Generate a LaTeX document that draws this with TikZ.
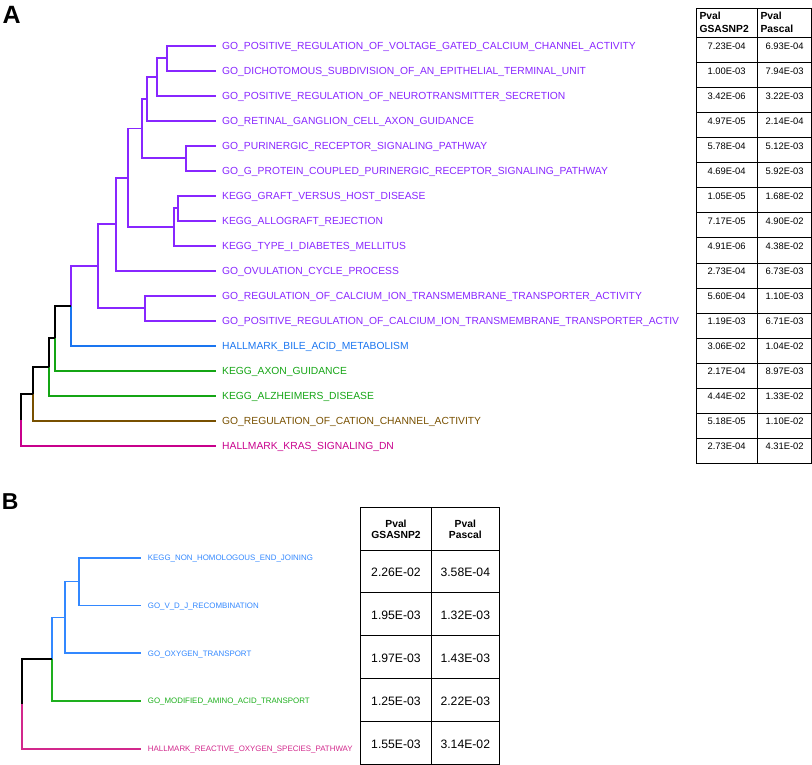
\documentclass[tikz,border=0pt]{standalone}
\usepackage{fontspec}
\setmainfont{Liberation Sans}
\definecolor{cpurple}{RGB}{136,38,255}
\definecolor{cblueA}{RGB}{26,117,240}
\definecolor{cgreenA}{RGB}{20,165,20}
\definecolor{cbrown}{RGB}{120,80,0}
\definecolor{cmagA}{RGB}{200,0,140}
\definecolor{cblueB}{RGB}{51,136,255}
\definecolor{cgreenB}{RGB}{30,175,30}
\definecolor{cmagB}{RGB}{210,40,140}
\begin{document}
\begin{tikzpicture}[x=1pt,y=-1pt,
  br/.style={line width=1.9pt},
  brB/.style={line width=1.7pt},
  lblA/.style={anchor=base west, inner sep=0pt, font=\fontsize{10.3}{12}\selectfont},
  lblB/.style={anchor=base west, inner sep=0pt, font=\fontsize{7.9}{9}\selectfont},
  valA/.style={anchor=base, inner sep=0pt, font=\fontsize{9.4}{11}\selectfont},
  valB/.style={anchor=base, inner sep=0pt, font=\fontsize{12.2}{14}\selectfont},
  hdr/.style={inner sep=0pt, font=\bfseries\fontsize{10.3}{12}\selectfont},
  gridline/.style={line width=1pt, black},
  panel/.style={anchor=base west, inner sep=0pt, font=\bfseries}
]
\useasboundingbox (0,0) rectangle (812,765);

% ---------------- Panel A ----------------
\node[panel, font=\bfseries\fontsize{25}{28}\selectfont] (pA) at (2.5,24) {A};

\foreach \c/\t [count=\i from 0] in {
 cpurple/GO\_POSITIVE\_REGULATION\_OF\_VOLTAGE\_GATED\_CALCIUM\_CHANNEL\_ACTIVITY,
 cpurple/GO\_DICHOTOMOUS\_SUBDIVISION\_OF\_AN\_EPITHELIAL\_TERMINAL\_UNIT,
 cpurple/GO\_POSITIVE\_REGULATION\_OF\_NEUROTRANSMITTER\_SECRETION,
 cpurple/GO\_RETINAL\_GANGLION\_CELL\_AXON\_GUIDANCE,
 cpurple/GO\_PURINERGIC\_RECEPTOR\_SIGNALING\_PATHWAY,
 cpurple/GO\_G\_PROTEIN\_COUPLED\_PURINERGIC\_RECEPTOR\_SIGNALING\_PATHWAY,
 cpurple/KEGG\_GRAFT\_VERSUS\_HOST\_DISEASE,
 cpurple/KEGG\_ALLOGRAFT\_REJECTION,
 cpurple/KEGG\_TYPE\_I\_DIABETES\_MELLITUS,
 cpurple/GO\_OVULATION\_CYCLE\_PROCESS,
 cpurple/GO\_REGULATION\_OF\_CALCIUM\_ION\_TRANSMEMBRANE\_TRANSPORTER\_ACTIVITY,
 cpurple/GO\_POSITIVE\_REGULATION\_OF\_CALCIUM\_ION\_TRANSMEMBRANE\_TRANSPORTER\_ACTIV,
 cblueA/HALLMARK\_BILE\_ACID\_METABOLISM,
 cgreenA/KEGG\_AXON\_GUIDANCE,
 cgreenA/KEGG\_ALZHEIMERS\_DISEASE,
 cbrown/GO\_REGULATION\_OF\_CATION\_CHANNEL\_ACTIVITY,
 cmagA/HALLMARK\_KRAS\_SIGNALING\_DN}
{
  \coordinate (a\i) at (216,45.7+25*\i);
  \node[lblA, text=\c, xshift=6pt, yshift=-3.7pt] (la\i) at (a\i) {\t};
}

\coordinate (p1) at (167.3,58.2);
\coordinate (p2) at (156.7,76.95);
\coordinate (p3) at (147.3,98.8);
\coordinate (p4) at (186,158.2);
\coordinate (p5) at (142.3,128.5);
\coordinate (p6) at (178.3,208.2);
\coordinate (p7) at (173.7,226.95);
\coordinate (p8) at (127.7,177.7);
\coordinate (p9) at (116.3,224.2);
\coordinate (p10) at (145,308.2);
\coordinate (p11) at (97.7,266.2);
\coordinate (p12) at (71,305.95);
\coordinate (p13) at (55.3,338.3);
\coordinate (p14) at (49.3,367);
\coordinate (p15) at (33,393.85);
\coordinate (p16) at (21.3,419.8);

\begin{scope}[br, cpurple]
  \draw (p1) |- (a0);  \draw (p1) |- (a1);
  \draw (p2) |- (p1);  \draw (p2) |- (a2);
  \draw (p3) |- (p2);  \draw (p3) |- (a3);
  \draw (p4) |- (a4);  \draw (p4) |- (a5);
  \draw (p5) |- (p3);  \draw (p5) |- (p4);
  \draw (p6) |- (a6);  \draw (p6) |- (a7);
  \draw (p7) |- (p6);  \draw (p7) |- (a8);
  \draw (p8) |- (p5);  \draw (p8) |- (p7);
  \draw (p9) |- (p8);  \draw (p9) |- (a9);
  \draw (p10) |- (a10); \draw (p10) |- (a11);
  \draw (p11) |- (p9);  \draw (p11) |- (p10);
  \draw (p12) |- (p11);
\end{scope}
\draw[br, cblueA] (p12) |- (a12);
\draw[br, black] (p13) |- (p12);
\draw[br, cgreenA] (p13) |- (a13);
\draw[br, black] (p14) |- (p13);
\draw[br, cgreenA] (p14) |- (a14);
\draw[br, black] (p15) |- (p14);
\draw[br, cbrown] (p15) |- (a15);
\draw[br, black] (p16) |- (p15);
\draw[br, cmagA] (p16) |- (a16);

% Table A
\draw[gridline] (696,8.3) rectangle (811.5,463);
\draw[gridline] (757,8.3) -- (757,463);
\foreach \k in {0,...,16} \draw[gridline] (696,38+25*\k) -- (811.5,38+25*\k);
\node[hdr, anchor=base west] (hA1) at (699.3,19.5) {Pval};
\node[hdr, anchor=base west] (hA2) at (699.3,33) {GSASNP2};
\node[hdr, anchor=base west] (hA3) at (760.3,19.5) {Pval};
\node[hdr, anchor=base west] (hA4) at (760.3,33) {Pascal};
\foreach \u/\v [count=\i from 0] in {
 7.23E-04/6.93E-04, 1.00E-03/7.94E-03, 3.42E-06/3.22E-03, 4.97E-05/2.14E-04,
 5.78E-04/5.12E-03, 4.69E-04/5.92E-03, 1.05E-05/1.68E-02, 7.17E-05/4.90E-02,
 4.91E-06/4.38E-02, 2.73E-04/6.73E-03, 5.60E-04/1.10E-03, 1.19E-03/6.71E-03,
 3.06E-02/1.04E-02, 2.17E-04/8.97E-03, 4.44E-02/1.33E-02, 5.18E-05/1.10E-02,
 2.73E-04/4.31E-02}
{
  \node[valA] (ua\i) at (726.6,49.7+25*\i) {\u};
  \node[valA] (va\i) at (784.6,49.7+25*\i) {\v};
}

% ---------------- Panel B ----------------
\node[panel, font=\bfseries\fontsize{23}{26}\selectfont] (pB) at (1.7,509.3) {B};

\foreach \c/\t [count=\i from 0] in {
 cblueB/KEGG\_NON\_HOMOLOGOUS\_END\_JOINING,
 cblueB/GO\_V\_D\_J\_RECOMBINATION,
 cblueB/GO\_OXYGEN\_TRANSPORT,
 cgreenB/GO\_MODIFIED\_AMINO\_ACID\_TRANSPORT,
 cmagB/HALLMARK\_REACTIVE\_OXYGEN\_SPECIES\_PATHWAY}
{
  \coordinate (b\i) at (141,557.7+47.75*\i);
  \node[lblB, text=\c, xshift=6.7pt, yshift=-2.8pt] (lb\i) at (b\i) {\t};
}
\coordinate (q1) at (79.3,581.5);
\coordinate (q2) at (65,617.35);
\coordinate (q3) at (51.7,659.2);
\coordinate (q4) at (21.7,703.95);
\draw[brB, cblueB] (q1) |- (b0);
\draw[brB, cblueB] (q1) |- (b1);
\draw[brB, cblueB] (q2) |- (q1);
\draw[brB, cblueB] (q2) |- (b2);
\draw[brB, cblueB] (q3) |- (q2);
\draw[brB, cgreenB] (q3) |- (b3);
\draw[brB, black] (q4) |- (q3);
\draw[brB, cmagB] (q4) |- (b4);

% Table B
\draw[gridline] (360.7,507.3) rectangle (499.3,764.3);
\draw[gridline] (431.3,507.3) -- (431.3,764.3);
\foreach \k in {0,...,4} \draw[gridline] (360.7,550+42.85*\k) -- (499.3,550+42.85*\k);
\node[hdr, anchor=base] (hB1) at (396,527) {Pval};
\node[hdr, anchor=base] (hB2) at (396,538.7) {GSASNP2};
\node[hdr, anchor=base] (hB3) at (465.3,527) {Pval};
\node[hdr, anchor=base] (hB4) at (465.3,538.7) {Pascal};
\foreach \u/\v [count=\i from 0] in {
 2.26E-02/3.58E-04, 1.95E-03/1.32E-03, 1.97E-03/1.43E-03,
 1.25E-03/2.22E-03, 1.55E-03/3.14E-02}
{
  \node[valB] (ub\i) at (396,576.8+42.85*\i) {\u};
  \node[valB] (vb\i) at (465.3,576.8+42.85*\i) {\v};
}
\end{tikzpicture}
\end{document}
